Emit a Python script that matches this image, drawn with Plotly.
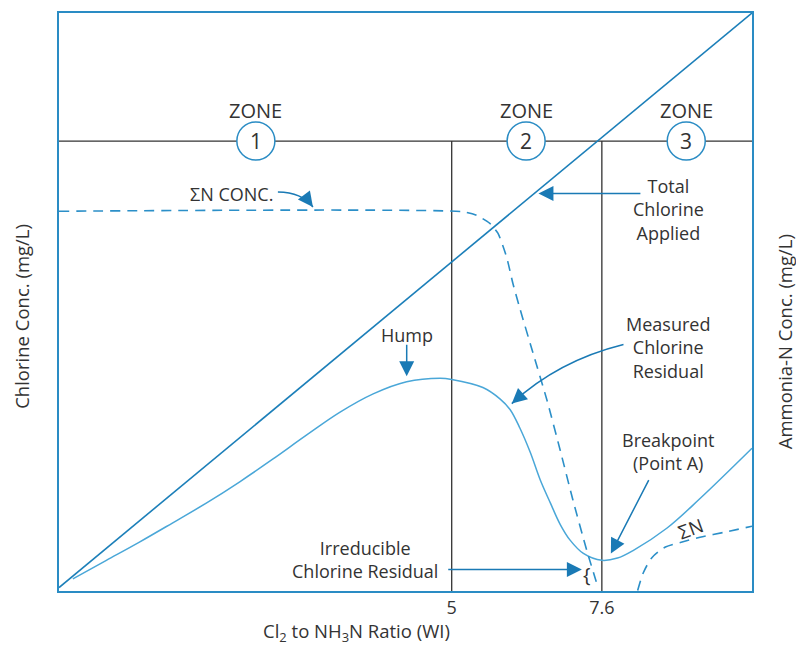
import plotly.graph_objects as go

# ---------------- data ----------------
ratio_ticks = [5, 7.6]
ratio_tick_labels = ["5", "7.6"]

total_cl_x = [-1.80, 10.20]
total_cl_y = [0.6, 100.0]

residual_x = [-1.56, -0.98, -0.40, 0.17, 0.75, 1.33, 1.90, 2.49, 3.06, 3.64, 4.22,
              4.80, 5.00, 5.54, 5.84, 6.01, 6.18, 6.36, 6.53, 6.71, 6.88, 7.05, 7.28,
              7.60, 7.87, 8.14, 8.73, 9.30, 10.20]
residual_y = [2.1, 5.3, 8.5, 11.8, 15.2, 18.9, 22.8, 27.0, 30.9, 34.1, 36.2,
              36.8, 36.6, 35.2, 33.2, 31.4, 28.2, 24.0, 19.3, 15.2, 11.5, 8.8, 6.5,
              5.3, 5.7, 7.0, 10.9, 16.0, 24.7]

sumn_x = [-1.80, 5.20, 5.43, 5.66, 5.80, 5.95, 6.06, 6.18, 6.41, 6.65, 6.88, 7.10, 7.34, 7.54]
sumn_y = [65.7, 65.6, 65.0, 63.6, 61.9, 57.8, 53.2, 48.9, 41.1, 33.0, 24.3, 15.7, 7.0, 0.4]

sumn2_x = [8.22, 8.32, 8.47, 8.70, 8.96, 9.30, 9.74, 10.20]
sumn2_y = [0.1, 3.2, 5.8, 7.6, 8.4, 9.3, 10.2, 11.2]

zone_names = ["1", "2", "3"]
zone_line_y = 77.85

# ---------------- layout helpers ----------------
W, H = 796, 646
L, R, T, B = 59.3, 751.7, 12.7, 590.7
XMIN, XMAX = -1.80, 10.20
YMIN, YMAX = 0.0, 100.0


def X(px):
    return XMIN + (px - L) * (XMAX - XMIN) / (R - L)


def Y(py):
    return YMIN + (B - py) * (YMAX - YMIN) / (B - T)


BLUE_FRAME = "#2a8cc4"
BLUE_LINE = "#1c7fb9"
BLUE_RES = "#4aa7d8"
BLUE_DASH = "#2b8fc8"
ARROW = "#1a7ab5"
TXT = "#333333"
FONT = "Open Sans"

fig = go.Figure()

fig.add_trace(go.Scatter(x=total_cl_x, y=total_cl_y, mode="lines",
                         line=dict(color=BLUE_LINE, width=1.6), hoverinfo="skip"))
fig.add_trace(go.Scatter(x=residual_x, y=residual_y, mode="lines",
                         line=dict(color=BLUE_RES, width=1.5, shape="spline", smoothing=1.0),
                         hoverinfo="skip"))
fig.add_trace(go.Scatter(x=sumn_x, y=sumn_y, mode="lines",
                         line=dict(color=BLUE_DASH, width=1.6, dash="10px,7px",
                                   shape="spline", smoothing=0.6), hoverinfo="skip"))
fig.add_trace(go.Scatter(x=sumn2_x, y=sumn2_y, mode="lines",
                         line=dict(color=BLUE_DASH, width=1.6, dash="10px,7px",
                                   shape="spline", smoothing=0.8), hoverinfo="skip"))

shapes = []
shapes.append(dict(type="line", xref="x", yref="y", x0=XMIN, x1=XMAX, y0=zone_line_y, y1=zone_line_y,
                   line=dict(color=TXT, width=1.3), layer="below"))
for xv in ratio_ticks:
    shapes.append(dict(type="line", xref="x", yref="y", x0=xv, x1=xv, y0=0, y1=zone_line_y,
                       line=dict(color=TXT, width=1.3), layer="below"))
zone_cx = [256, 526, 686]
rad = 19
for cx in zone_cx:
    shapes.append(dict(type="circle", xref="x", yref="y",
                       x0=X(cx - rad), x1=X(cx + rad), y0=Y(140.7 + rad), y1=Y(140.7 - rad),
                       line=dict(color=BLUE_FRAME, width=1.5), fillcolor="white", layer="above"))


def qpath(p0, c, p1):
    return "M {},{} Q {},{} {},{}".format(X(p0[0]), Y(p0[1]), X(c[0]), Y(c[1]), X(p1[0]), Y(p1[1]))


shapes.append(dict(type="path", xref="x", yref="y", path=qpath((278, 191.7), (302, 192), (313, 206.7)),
                   line=dict(color=ARROW, width=1.5)))
shapes.append(dict(type="path", xref="x", yref="y", path=qpath((623.3, 344.3), (558, 360.5), (511.7, 403.3)),
                   line=dict(color=ARROW, width=1.5)))

ann = []
fnt = dict(family=FONT, size=18, color=TXT)
C = dict(xanchor="center", yanchor="middle", showarrow=False)
for cx, name in zip(zone_cx, zone_names):
    ann.append(dict(x=X(cx), y=Y(110), xref="x", yref="y", text="ZONE",
                    font=dict(family=FONT, size=20, color=TXT), **C))
    ann.append(dict(x=X(cx), y=Y(140.7), xref="x", yref="y", text=name,
                    font=dict(family=FONT, size=21, color=TXT), **C))

ann.append(dict(x=X(231.7), y=Y(193.3), xref="x", yref="y", text="ΣN CONC.", font=fnt, **C))
ann.append(dict(x=X(668), y=Y(208.7), xref="x", yref="y", text="Total<br>Chlorine<br>Applied",
                font=fnt, **C))
ann.append(dict(x=X(406.7), y=Y(334.3), xref="x", yref="y", text="Hump", font=fnt, **C))
ann.append(dict(x=X(668), y=Y(346.7), xref="x", yref="y", text="Measured<br>Chlorine<br>Residual",
                font=fnt, **C))
ann.append(dict(x=X(668), y=Y(450.8), xref="x", yref="y", text="Breakpoint<br>(Point A)",
                font=fnt, **C))
ann.append(dict(x=X(365), y=Y(559), xref="x", yref="y", text="Irreducible<br>Chlorine Residual",
                font=fnt, **C))
ann.append(dict(x=X(587), y=Y(574), xref="x", yref="y", text="{",
                font=dict(family=FONT, size=20, color=TXT), **C))
ann.append(dict(x=X(690), y=Y(528.3), xref="x", yref="y", text="ΣN", textangle=-20,
                font=dict(family=FONT, size=19, color=TXT), **C))

arrow_style = dict(showarrow=True, arrowhead=2, arrowsize=2.0, arrowwidth=1.5, arrowcolor=ARROW,
                   text="", xref="x", yref="y", axref="x", ayref="y", standoff=0, startstandoff=0)
for tip, tail in [((538.3, 193.3), (641.7, 193.3)),
                  ((406.7, 376), (406.7, 343)),
                  ((610.7, 553.3), (649.3, 478.3)),
                  ((581.7, 569.3), (446.7, 569.3))]:
    a = dict(arrow_style)
    a.update(x=X(tip[0]), y=Y(tip[1]), ax=X(tail[0]), ay=Y(tail[1]))
    ann.append(a)

for tip, off in [((313, 206.7), (-6, -8)), ((511.7, 403.3), (9, -8))]:
    a = dict(showarrow=True, arrowhead=2, arrowsize=2.0, arrowwidth=1.5, arrowcolor=ARROW,
             text="", xref="x", yref="y", standoff=0, x=X(tip[0]), y=Y(tip[1]), ax=off[0], ay=off[1])
    ann.append(a)

tfnt = dict(family=FONT, size=18.5, color=TXT)
ann.append(dict(xref="paper", yref="paper", x=0, y=(B - 316) / (B - T), xshift=-37.5,
                text="Chlorine Conc. (mg/L)", textangle=-90, font=tfnt, **C))
ann.append(dict(xref="paper", yref="paper", x=1, y=(B - 342) / (B - T), xshift=32,
                text="Ammonia-N Conc. (mg/L)", textangle=-90, font=tfnt, **C))
ann.append(dict(xref="paper", yref="paper", x=(357 - L) / (R - L), y=(B - 632) / (B - T),
                text="Cl<sub>2</sub> to NH<sub>3</sub>N Ratio (WI)", font=tfnt, **C))

fig.update_layout(
    width=W, height=H,
    margin=dict(l=L, r=W - R, t=T, b=H - B, pad=0),
    paper_bgcolor="white", plot_bgcolor="white",
    showlegend=False,
    shapes=shapes, annotations=ann,
    font=dict(family=FONT, color=TXT),
    xaxis=dict(range=[XMIN, XMAX], showgrid=False, zeroline=False, showline=True, mirror=True,
               linecolor=BLUE_FRAME, linewidth=1.6, ticks="", tickvals=ratio_ticks,
               ticktext=ratio_tick_labels, tickfont=dict(family=FONT, size=18, color=TXT), fixedrange=True),
    yaxis=dict(range=[YMIN, YMAX], showgrid=False, zeroline=False, showline=True, mirror=True,
               linecolor=BLUE_FRAME, linewidth=1.6, ticks="", showticklabels=False, fixedrange=True),
)

fig.write_html("out.html", config={"displayModeBar": False},
               post_script="document.body.style.margin='0';")
